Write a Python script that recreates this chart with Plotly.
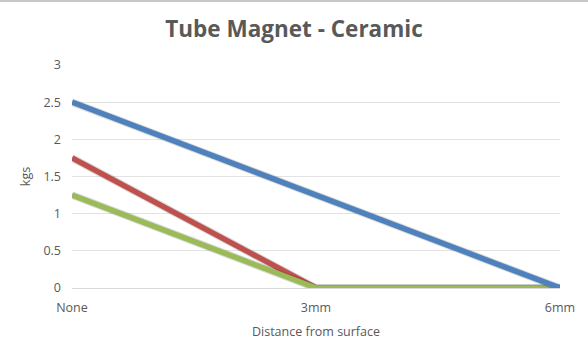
import plotly.graph_objects as go

categories = ["None", "3mm", "6mm"]
series_names = ["Series 1", "Series 2", "Series 3"]
blue_vals = [2.5, 1.25, 0]
red_vals = [1.75, 0, 0]
green_vals = [1.25, 0, 0]
colors = ["#4F81BD", "#C0504D", "#9BBB59"]
y_ticks = [0, 0.5, 1, 1.5, 2, 2.5, 3]
y_tick_labels = ["0", "0.5", "1", "1.5", "2", "2.5", "3"]

font_family = "Open Sans, Liberation Sans, sans-serif"
text_color = "#595959"

W, H = 588, 357
ML, MR, MT, MB = 72, 28, 65, 69
plot_h = H - MT - MB

fig = go.Figure()
for name, vals, col in [(series_names[1], red_vals, colors[1]),
                        (series_names[2], green_vals, colors[2]),
                        (series_names[0], blue_vals, colors[0])]:
    fig.add_trace(go.Scatter(x=categories, y=vals, mode="lines",
                             line=dict(color="rgba(0,0,0,0.15)", width=7.5),
                             hoverinfo="skip", showlegend=False))
    fig.add_trace(go.Scatter(x=categories, y=vals, mode="lines", name=name,
                             line=dict(color=col, width=5.5), showlegend=False))

fig.update_layout(
    width=W, height=H,
    margin=dict(l=ML, r=MR, t=MT, b=MB),
    paper_bgcolor="white", plot_bgcolor="white",
    title=dict(text="<b>Tube Magnet - Ceramic</b>", x=0.5, xanchor="center",
               y=1 - 29 / H, yanchor="middle",
               font=dict(family=font_family, size=22.5, color=text_color)),
    xaxis=dict(type="category", categoryorder="array", categoryarray=categories,
               range=[0, 2], showgrid=False, showline=True, linecolor="#D9D9D9",
               zeroline=False, ticks="", ticklabelstandoff=8,
               tickfont=dict(family=font_family, size=12.5, color=text_color),
               title=dict(text="Distance from surface", standoff=12,
                          font=dict(family=font_family, size=12.5, color=text_color))),
    yaxis=dict(range=[0, 3], tickvals=y_ticks, ticktext=y_tick_labels,
               showgrid=True, gridcolor="#E3E3E3", gridwidth=1, zeroline=False,
               showline=False, ticks="", ticklabelstandoff=10,
               tickfont=dict(family=font_family, size=12.5, color=text_color),
               title=dict(text="kgs", standoff=10,
                          font=dict(family=font_family, size=12.5, color=text_color))),
    shapes=[dict(type="line", xref="paper", yref="paper",
                 x0=-ML / (W - ML - MR), x1=1 + MR / (W - ML - MR),
                 y0=1 + (MT - 1) / plot_h, y1=1 + (MT - 1) / plot_h,
                 line=dict(color="#C8C8C8", width=2))],
)

fig.write_html("out.html", config={"displayModeBar": False},
               post_script="document.body.style.margin='0';document.body.style.overflow='hidden';")
